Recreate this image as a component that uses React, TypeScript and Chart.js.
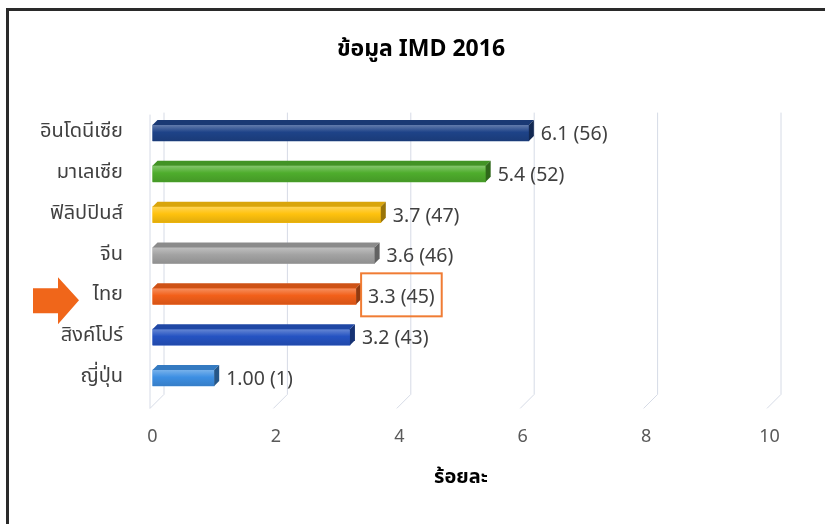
import React, { useEffect, useRef } from "react";
import { Chart, registerables } from "chart.js";

Chart.register(...registerables);

const chartTitle = "ข้อมูล IMD 2016";
const axisTitle = "ร้อยละ";
const countries = ["อินโดนีเซีย", "มาเลเซีย", "ฟิลิปปินส์", "จีน", "ไทย", "สิงค์โปร์", "ญี่ปุ่น"];
const values = [6.1, 5.4, 3.7, 3.6, 3.3, 3.2, 1.0];
const valueTexts = ["6.1", "5.4", "3.7", "3.6", "3.3", "3.2", "1.00"];
const ranks = [56, 52, 47, 46, 45, 43, 1];
const xTicks = [0, 2, 4, 6, 8, 10];
const barColors = ["#1E4388", "#4EAD2C", "#FFC20E", "#A3A3A3", "#F2601A", "#2553C2", "#3D8FE3"];
const highlightIndex = 4;

const FONT = '"Noto Sans Thai", "Noto Sans", "Leelawadee UI", Tahoma, sans-serif';

function shade(hex: string, amt: number): string {
  const n = parseInt(hex.slice(1), 16);
  let r = (n >> 16) & 255, g = (n >> 8) & 255, b = n & 255;
  if (amt >= 0) {
    r = Math.round(r + (255 - r) * amt);
    g = Math.round(g + (255 - g) * amt);
    b = Math.round(b + (255 - b) * amt);
  } else {
    r = Math.round(r * (1 + amt));
    g = Math.round(g * (1 + amt));
    b = Math.round(b * (1 + amt));
  }
  return `rgb(${r},${g},${b})`;
}

const DEPTH = 5;

const decorPlugin = {
  id: "decor3d",
  beforeDatasetsDraw(chart: any) {
    const { ctx, chartArea, scales } = chart;
    const xs = scales.x;
    ctx.save();
    ctx.strokeStyle = "#D6DBE6";
    ctx.lineWidth = 1;
    const floorBack = chartArea.bottom - 4;
    const floorFront = chartArea.bottom + 10;
    const p0 = xs.getPixelForValue(0);
    ctx.beginPath();
    ctx.moveTo(p0 - 3 + 0.5, chartArea.top + 2);
    ctx.lineTo(p0 - 3 + 0.5, floorFront);
    ctx.stroke();
    xTicks.forEach((v) => {
      const px = xs.getPixelForValue(v) - 3;
      const bx = px + 14;
      ctx.beginPath();
      ctx.moveTo(bx + 0.5, chartArea.top);
      ctx.lineTo(bx + 0.5, floorBack);
      ctx.lineTo(px + 0.5, floorFront);
      ctx.stroke();
    });
    ctx.restore();
  },
  afterDatasetsDraw(chart: any) {
    const { ctx, scales } = chart;
    const meta = chart.getDatasetMeta(0);
    ctx.save();
    meta.data.forEach((el: any, i: number) => {
      const { x, y, base, height } = el.getProps(["x", "y", "base", "height"], true);
      const top = y - height / 2;
      const bottom = y + height / 2;
      const c = barColors[i];
      const g = ctx.createLinearGradient(0, top, 0, bottom);
      g.addColorStop(0, shade(c, 0.3));
      g.addColorStop(0.45, c);
      g.addColorStop(1, shade(c, -0.12));
      ctx.fillStyle = g;
      ctx.fillRect(base, top, x - base, height);
      ctx.beginPath();
      ctx.moveTo(base, top);
      ctx.lineTo(base + DEPTH, top - DEPTH);
      ctx.lineTo(x + DEPTH, top - DEPTH);
      ctx.lineTo(x, top);
      ctx.closePath();
      ctx.fillStyle = shade(c, -0.15);
      ctx.fill();
      ctx.beginPath();
      ctx.moveTo(x, top);
      ctx.lineTo(x + DEPTH, top - DEPTH);
      ctx.lineTo(x + DEPTH, bottom - DEPTH);
      ctx.lineTo(x, bottom);
      ctx.closePath();
      ctx.fillStyle = shade(c, -0.4);
      ctx.fill();

      const text = `${valueTexts[i]} (${ranks[i]})`;
      ctx.font = `19.5px ${FONT}`;
      ctx.fillStyle = "#404040";
      ctx.textAlign = "left";
      ctx.textBaseline = "middle";
      const lx = x + 12;
      const ly = y + 3;
      ctx.fillText(text, lx, ly);
      if (i === highlightIndex) {
        const w = ctx.measureText(text).width;
        ctx.strokeStyle = "#F07C34";
        ctx.lineWidth = 2;
        ctx.strokeRect(lx - 7, y - 23, w + 14, 43);
      }
    });

    const ay = scales.y.getPixelForValue(highlightIndex) + 4;
    ctx.fillStyle = "#F0661A";
    ctx.beginPath();
    ctx.moveTo(33, ay - 12);
    ctx.lineTo(58, ay - 12);
    ctx.lineTo(58, ay - 23);
    ctx.lineTo(79, ay);
    ctx.lineTo(58, ay + 24);
    ctx.lineTo(58, ay + 13);
    ctx.lineTo(33, ay + 13);
    ctx.closePath();
    ctx.fill();
    ctx.restore();
  },
};

export default function App() {
  const ref = useRef<HTMLCanvasElement | null>(null);

  useEffect(() => {
    if (!ref.current) return;
    const chart = new Chart(ref.current, {
      type: "bar",
      data: {
        labels: countries,
        datasets: [
          {
            data: values,
            backgroundColor: barColors,
            barThickness: 16,
          },
        ],
      },
      options: {
        indexAxis: "y",
        responsive: false,
        animation: false,
        layout: { padding: { left: 17, right: 0, top: 0, bottom: 0 } },
        plugins: {
          legend: { display: false },
          tooltip: { enabled: false },
          title: {
            display: true,
            text: chartTitle,
            color: "#000",
            font: { family: FONT, size: 23, weight: "bold" },
            padding: { top: 37.2, bottom: 47.8 },
          },
        },
        scales: {
          x: {
            type: "linear",
            min: 0,
            max: 10,
            afterBuildTicks: (scale: any) => {
              scale.ticks = xTicks.map((v) => ({ value: v }));
            },
            grid: { display: false, drawTicks: false },
            border: { display: false },
            ticks: {
              color: "#595959",
              font: { family: FONT, size: 18 },
              padding: 29,
            },
            title: {
              display: true,
              text: axisTitle,
              color: "#000",
              font: { family: FONT, size: 20, weight: "bold" },
              padding: { top: 0, bottom: 33 },
            },
            afterFit: (scale: any) => {
              scale.height = 125.6;
            },
          },
          y: {
            type: "category",
            grid: { display: false, drawTicks: false },
            border: { display: false },
            ticks: {
              color: "#404040",
              font: { family: FONT, size: 20 },
              padding: 29.5,
            },
            afterFit: (scale: any) => {
              scale.width = 135.5;
            },
          },
          y2: {
            type: "category",
            position: "right",
            grid: { display: false, drawTicks: false },
            border: { display: false },
            ticks: { display: false },
            afterFit: (scale: any) => {
              scale.width = 55.5;
            },
          },
        },
      },
      plugins: [decorPlugin],
    } as any);
    return () => chart.destroy();
  }, []);

  return (
    <div
      style={{
        position: "fixed",
        left: 0,
        top: 0,
        width: 825,
        height: 524,
        background: "#fff",
        overflow: "hidden",
      }}
    >
      <div
        style={{
          position: "absolute",
          left: 6,
          top: 8,
          width: 900,
          height: 600,
          borderTop: "3px solid #2a2a2a",
          borderLeft: "3px solid #2a2a2a",
        }}
      />
      <canvas ref={ref} width={825} height={524} style={{ position: "absolute", left: 0, top: 0 }} />
    </div>
  );
}
